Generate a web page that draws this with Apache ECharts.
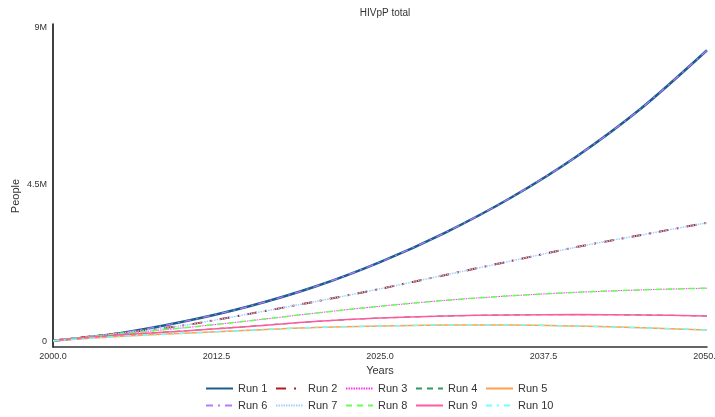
<!DOCTYPE html>
<html>
<head>
<meta charset="utf-8">
<script src="https://cdn.jsdelivr.net/npm/echarts@6/dist/echarts.min.js"></script>
<style>html,body{margin:0;padding:0;background:#fff;}#c{width:715px;height:417px;}</style>
</head>
<body>
<div id="c"></div>
<script>
const years = [2000, 2005, 2010, 2015, 2020, 2025, 2030, 2035, 2040, 2045, 2050];
const run1 = [0.01, 0.22, 0.56, 1.0, 1.56, 2.27, 3.12, 4.12, 5.3, 6.7, 8.36];
const run2 = [0.01, 0.22, 0.45, 0.78, 1.13, 1.5, 1.9, 2.3, 2.7, 3.05, 3.4];
const run3 = [0.01, 0.2, 0.38, 0.58, 0.8, 1.0, 1.17, 1.3, 1.4, 1.47, 1.52];
const run4 = [0.01, 0.17, 0.29, 0.42, 0.56, 0.66, 0.72, 0.75, 0.76, 0.75, 0.72];
const run5 = [0.01, 0.13, 0.22, 0.31, 0.39, 0.43, 0.46, 0.46, 0.43, 0.38, 0.32];
const run6 = run1.slice();
const run7 = run2.slice();
const run8 = run3.slice();
const run9 = run4.slice();
const run10 = run5.slice();
const runNames = ['Run 1','Run 2','Run 3','Run 4','Run 5','Run 6','Run 7','Run 8','Run 9','Run 10'];
const runValues = [run1, run2, run3, run4, run5, run6, run7, run8, run9, run10];
const yTicks = [0, 4500000, 9000000];
const yTickLabels = ['0', '4.5M', '9M'];

const styles = [
  {color:'#1b5e8c', type:'solid', width:2.5},
  {color:'#b01c1c', type:[10,8,2,8], width:2},
  {color:'#ff33ee', type:[1.5,1], width:1},
  {color:'#2e9960', type:[6,5], width:1.2},
  {color:'#ffa04a', type:'solid', width:1.5},
  {color:'#b57aff', type:[7,5,2,5], width:1.2},
  {color:'#9fd0ff', type:[1.5,1], width:1.5},
  {color:'#66ff55', type:[6,5], width:1.5},
  {color:'#ff5aa0', type:'solid', width:1.5},
  {color:'#70ffff', type:[6,5,2,5], width:1.5}
];

const series = runNames.map((n, i) => ({
  name: n,
  type: 'line',
  smooth: 0.3,
  showSymbol: false,
  symbol: 'circle',
  symbolSize: 0,
  data: years.map((y, k) => [y, runValues[i][k] * 1e6]),
  lineStyle: {color: styles[i].color, type: styles[i].type, width: styles[i].width},
  itemStyle: {color: styles[i].color},
  z: 2 + i
}));

const chart = echarts.init(document.getElementById('c'), null, {renderer:'canvas'});
const legendText = {fontSize: 11, color: '#333', fontFamily: 'Liberation Sans'};
const legends = runNames.map((n, i) => ({
  data: [n],
  left: 205 + 70 * (i % 5),
  top: i < 5 ? 383 : 400,
  itemWidth: 27, itemHeight: 10, itemGap: 0,
  textStyle: legendText, selectedMode: false, padding: 0,
  itemStyle: {opacity: 0}
}));
chart.setOption({
  animation: false,
  backgroundColor: '#fff',
  textStyle: {fontFamily: 'Liberation Sans'},
  title: {
    text: 'HIVpP total', left: 380, top: 3, textAlign: 'center',
    textStyle: {fontSize: 10, fontWeight: 'normal', color: '#333', fontFamily: 'Liberation Sans'}
  },
  grid: {left: 53, right: 8, top: 24, bottom: 70, containLabel: false, outerBoundsMode: 'none'},
  xAxis: {
    type: 'value', min: 2000, max: 2050, interval: 12.5,
    name: 'Years', nameLocation: 'middle', nameGap: 18,
    nameTextStyle: {fontSize: 11, color: '#333'},
    axisLine: {onZero: false, lineStyle: {color: '#333', width: 1.5}},
    axisTick: {show: false},
    splitLine: {show: false},
    axisLabel: {fontSize: 9, color: '#333', margin: 5, formatter: v => v.toFixed(1), showMaxLabel: true, showMinLabel: true}
  },
  yAxis: {
    type: 'value', min: -172000, max: 9115000,
    axisLine: {show: true, lineStyle: {color: '#000', width: 1.5}},
    axisTick: {show: false},
    splitLine: {show: false},
    axisLabel: {
      fontSize: 9, color: '#333', margin: 6,
      customValues: yTicks,
      formatter: v => { const i = yTicks.indexOf(v); return i >= 0 ? yTickLabels[i] : ''; }
    }
  },
  graphic: [{
    type: 'text', x: 16, y: 196, rotation: Math.PI / 2,
    style: {text: 'People', fontSize: 11, fill: '#333', fontFamily: 'Liberation Sans', align: 'center', verticalAlign: 'middle'}
  }],
  legend: legends,
  series: series
});
</script>
</body>
</html>
